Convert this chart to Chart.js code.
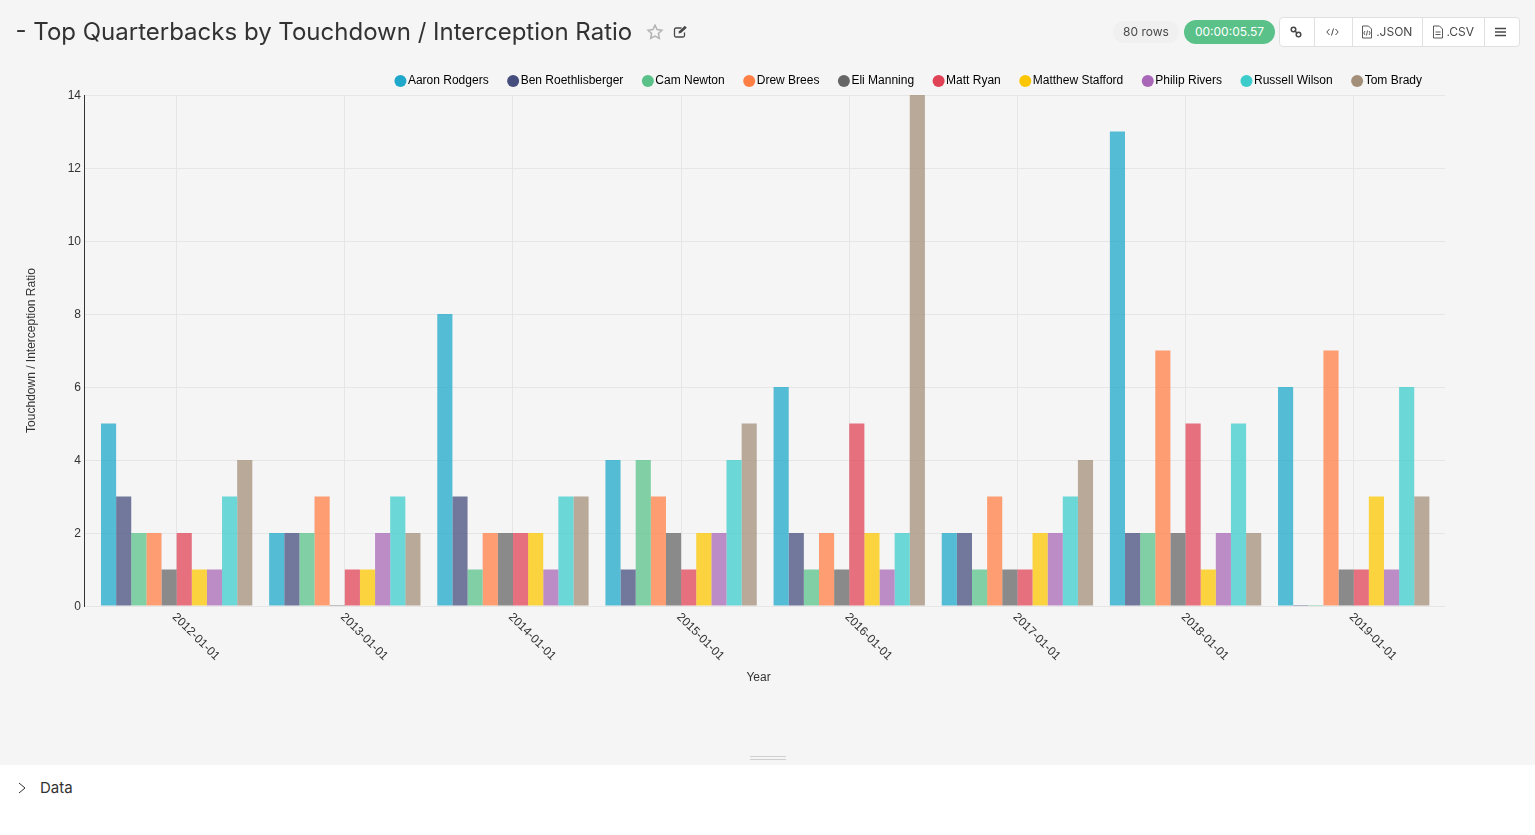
<!DOCTYPE html>
<html>
<head>
<meta charset="utf-8">
<title>Top Quarterbacks by Touchdown / Interception Ratio</title>
<script src="https://cdn.jsdelivr.net/npm/chart.js@4"></script>
<style>
  html, body { margin: 0; padding: 0; width: 1535px; height: 835px; overflow: hidden; background: #fff; font-family: Inter, sans-serif; color: #323232; }
  .main { position: absolute; left: 0; top: 0; width: 1535px; height: 765px; background: #f5f5f5; }
  canvas { position: absolute; left: 0; top: 0; }
  .title { position: absolute; left: 15.5px; top: 17px; font-size: 24px; line-height: 30px; white-space: nowrap; color: #323232; }
  .icon { position: absolute; }
  .rows { position: absolute; left: 1113px; top: 21px; width: 66px; height: 22px; line-height: 22px; border-radius: 11px; background: #f0f0f0; text-align: center; font-size: 12px; color: #484848; }
  .timer { position: absolute; left: 1184px; top: 20px; width: 91px; height: 24px; line-height: 24px; border-radius: 12px; background: #5ac189; text-align: center; font-size: 12px; color: #fff; }
  .btns { position: absolute; left: 1279px; top: 17px; width: 239px; height: 28px; background: #fff; border: 1px solid #e0e0e0; border-radius: 4px; font-size: 12px; color: #484848; }
  .btns div { position: absolute; top: 0; height: 28px; line-height: 28px; border-left: 1px solid #e0e0e0; }
  .handle { position: absolute; left: 750px; width: 36px; height: 1px; background: #cfcfcf; }
  .data { position: absolute; left: 40px; top: 778px; font-size: 15px; line-height: 20px; color: #323232; }
</style>
</head>
<body>
<div class="main">
  <canvas id="chart" width="1535" height="765"></canvas>
  <div class="title">- Top Quarterbacks by Touchdown / Interception Ratio</div>
  <svg class="icon" style="left:646px;top:23px" width="18" height="18" viewBox="0 0 18 18"><path d="M9 2.2l2.1 4.4 4.8.6-3.5 3.3.9 4.8L9 13l-4.3 2.3.9-4.8-3.5-3.3 4.8-.6z" fill="none" stroke="#b2b2b2" stroke-width="1.5"/></svg>
  <svg class="icon" style="left:673px;top:24px" width="15" height="15" viewBox="0 0 15 15"><path d="M11.5 8.5v3A1.500 1.500 0 0 1 10 13H3A1.500 1.500 0 0 1 1.500 11.500v-6A1.500 1.500 0 0 1 3 4h5.500" fill="none" stroke="#484848" stroke-width="1.300"/><path d="M5.500 9.500l.5-2.300L11.800 1.800l2 1.900-5.800 5.400z" fill="#484848"/></svg>
  <div class="rows">80 rows</div>
  <div class="timer">00:00:05.57</div>
  <div class="btns">
    <svg class="icon" style="left:9px;top:7px" width="14" height="14" viewBox="0 0 14 14"><circle cx="4.500" cy="4.500" r="2.300" fill="none" stroke="#484848" stroke-width="1.500"/><circle cx="9.500" cy="9.500" r="2.300" fill="none" stroke="#484848" stroke-width="1.500"/><path d="M5.500 5.500l3 3" stroke="#484848" stroke-width="1.500"/></svg>
    <div style="left:34px;width:37px"></div>
    <svg class="icon" style="left:46px;top:9px" width="13" height="10" viewBox="0 0 13 10"><path d="M3.500 2L.8 5l2.700 3M9.500 2l2.700 3-2.700 3M7.500 1.500L5.500 8.500" fill="none" stroke="#484848" stroke-width="1"/></svg>
    <div style="left:72px;width:69px;text-align:center">&nbsp;&nbsp;&nbsp;&nbsp;.JSON</div>
    <svg class="icon" style="left:81px;top:7px" width="12" height="14" viewBox="0 0 12 14"><path d="M1.500 1h6l3 3v9h-9zM4 6L2.800 8 4 10M8 6l1.200 2L8 10M6.500 5.500l-1 5" fill="none" stroke="#484848" stroke-width=".9"/></svg>
    <div style="left:142px;width:61px;text-align:center">&nbsp;&nbsp;&nbsp;&nbsp;.CSV</div>
    <svg class="icon" style="left:152px;top:7px" width="12" height="14" viewBox="0 0 12 14"><path d="M1.500 1h6l3 3v9h-9zM3.500 7h5M3.500 9.500h5" fill="none" stroke="#484848" stroke-width=".9"/></svg>
    <div style="left:204px;width:34px"></div>
    <svg class="icon" style="left:215px;top:9px" width="11" height="10" viewBox="0 0 11 10"><path d="M0 1.500h11M0 5h11M0 8.500h11" stroke="#484848" stroke-width="1.500"/></svg>
  </div>
  <div class="handle" style="top:756px"></div>
  <div class="handle" style="top:759px"></div>
</div>
<svg class="icon" style="left:17px;top:782px" width="10" height="12" viewBox="0 0 10 12"><path d="M2 1l6 5-6 5" fill="none" stroke="#323232"/></svg>
<div class="data">Data</div>

<script>
const years = ['2012-01-01', '2013-01-01', '2014-01-01', '2015-01-01', '2016-01-01', '2017-01-01', '2018-01-01', '2019-01-01'];
const players = ['Aaron Rodgers', 'Ben Roethlisberger', 'Cam Newton', 'Drew Brees', 'Eli Manning', 'Matt Ryan', 'Matthew Stafford', 'Philip Rivers', 'Russell Wilson', 'Tom Brady'];
const colors = ['31,168,201', '69,78,124', '90,193,137', '255,127,68', '102,102,102', '224,67,85', '252,199,0', '168,104,183', '60,204,203', '163,143,121'];

const aaronRodgers = [5, 2, 8, 4, 6, 2, 13, 6];
const benRoethlisberger = [3, 2, 3, 1, 2, 2, 2, 0];
const camNewton = [2, 2, 1, 4, 1, 1, 2, 0];
const drewBrees = [2, 3, 2, 3, 2, 3, 7, 7];
const eliManning = [1, 0, 2, 2, 1, 1, 2, 1];
const mattRyan = [2, 1, 2, 1, 5, 1, 5, 1];
const matthewStafford = [1, 1, 2, 2, 2, 2, 1, 3];
const philipRivers = [1, 2, 1, 2, 1, 2, 2, 1];
const russellWilson = [3, 3, 3, 4, 2, 3, 5, 6];
const tomBrady = [4, 2, 3, 5, 14, 4, 2, 3];
const series = [aaronRodgers, benRoethlisberger, camNewton, drewBrees, eliManning, mattRyan, matthewStafford, philipRivers, russellWilson, tomBrady];

const textColor = '#333';
const gridColor = '#e6e6e6';
const font = { family: '"Liberation Sans", Arial, sans-serif', size: 12 };

// move tick labels a little, chart.js has no option for it
function shiftLabels(scale, dx, dy) {
  const compute = scale._computeLabelItems;
  scale._computeLabelItems = function (area) {
    const items = compute.call(this, area);
    items.forEach(item => {
      item.options.translation[0] += dx;
      item.options.translation[1] += dy;
    });
    return items;
  };
}

// legend sits right of centre and the x title left of centre in the original
const nudge = {
  id: 'nudge',
  afterLayout(chart) {
    chart.legend.right = 1445;
    chart.legend.top += 2;
    chart.scales.x.right -= 12;
    // x labels hang down to the right of the tick
    chart.scales.x._getXAxisLabelAlignment = () => 'left';
    shiftLabels(chart.scales.x, -2.5, -4);
    shiftLabels(chart.scales.y, 0, 1);
  }
};

new Chart(document.getElementById('chart'), {
  type: 'bar',
  plugins: [nudge],
  data: {
    labels: years.map((y, i) => i),
    datasets: players.map((name, i) => ({
      label: name,
      data: series[i],
      backgroundColor: 'rgba(' + colors[i] + ',0.75)',
      borderWidth: 0,
      minBarLength: 1,
      categoryPercentage: 0.9,
      barPercentage: 1
    }))
  },
  options: {
    responsive: false,
    animation: false,
    layout: { padding: { left: 24, right: 90, top: 50, bottom: 80 } },
    plugins: {
      tooltip: { enabled: false },
      legend: {
        position: 'top',
        align: 'end',
        labels: {
          usePointStyle: true,
          pointStyle: 'circle',
          boxWidth: 3,
          boxHeight: 8.5,
          padding: 23,
          color: textColor,
          font: font,
          generateLabels: chart => players.map((name, i) => ({
            text: name,
            fillStyle: 'rgb(' + colors[i] + ')',
            strokeStyle: 'rgb(' + colors[i] + ')',
            lineWidth: 0,
            pointStyle: 'circle',
            datasetIndex: i
          }))
        }
      }
    },
    scales: {
      x: {
        type: 'linear',
        offset: false,
        min: -0.551,
        max: 7.543,
        afterFit: scale => { scale.height = 79; },
        grid: { offset: false, color: gridColor, drawTicks: false },
        border: { display: false },
        title: { display: true, text: 'Year', color: textColor, font: font, padding: 0 },
        ticks: {
          stepSize: 1,
          includeBounds: false,
          autoSkip: false,
          minRotation: -45,
          maxRotation: -45,
          padding: 8,
          color: textColor,
          font: font,
          callback: value => years[value]
        }
      },
      y: {
        min: 0,
        max: 14,
        afterFit: scale => { scale.width = 60; },
        grid: { color: gridColor, drawTicks: false },
        border: { display: true, color: '#333' },
        title: { display: true, text: 'Touchdown / Interception Ratio', color: textColor, font: font, padding: 0 },
        ticks: { stepSize: 2, padding: 3, color: textColor, font: font }
      }
    }
  }
});
</script>
</body>
</html>
